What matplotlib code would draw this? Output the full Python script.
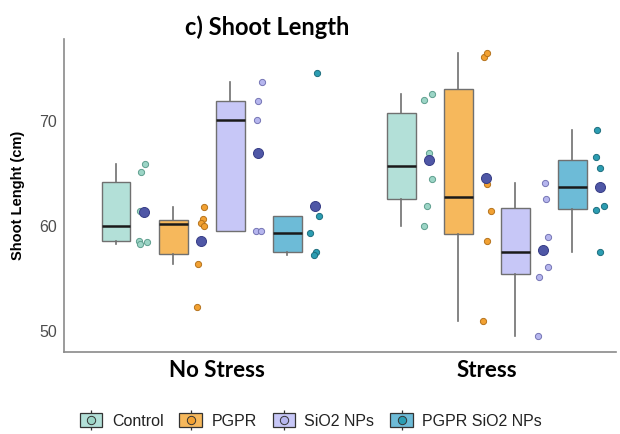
import numpy as np
import matplotlib
matplotlib.use("Agg")
import matplotlib.pyplot as plt
from matplotlib.patches import Rectangle
from matplotlib.lines import Line2D
from matplotlib.legend_handler import HandlerTuple
import matplotlib.transforms as mtransforms

# ---- data -------------------------------------------------------------
conditions = ["No Stress", "Stress"]
treatments = ["Control", "PGPR", "SiO2 NPs", "PGPR SiO2 NPs"]

no_stress_control = [65.9, 65.1, 61.4, 58.6, 58.3, 58.5]
no_stress_pgpr = [61.8, 60.67, 60.3, 60.0, 56.4, 52.3]
no_stress_sio2 = [73.75, 71.87, 70.06, 59.56, 59.5]
no_stress_pgpr_sio2 = [74.54, 60.95, 59.37, 57.52, 57.27]

stress_control = [72.0, 72.54, 67.0, 64.44, 61.93, 60.0]
stress_pgpr = [76.07, 76.45, 64.0, 61.43, 58.54, 50.98]
stress_sio2 = [64.13, 62.6, 58.92, 56.13, 55.17, 49.49]
stress_pgpr_sio2 = [69.17, 66.54, 65.49, 61.56, 61.93, 57.49]

y_ticks = [50, 60, 70]

groups = [
    [no_stress_control, no_stress_pgpr, no_stress_sio2, no_stress_pgpr_sio2],
    [stress_control, stress_pgpr, stress_sio2, stress_pgpr_sio2],
]

# horizontal jitter of the raw points (fixed, in pixels)
jitter_px = [
    [[1, -3, -4, -5, -4, 3], [3, 2, 0, 3, -3, -4.5], [4, 0, -1, -2, 3], [2, 3.5, -5.5, 1, -1]],
    [[-5, 3, 0, 3, -2, -5], [-2, 1, 1, 5, 1, -3], [2, 3, 5, 5, -4, -5], [-3, -4, 0, -4, 4, 0]],
]

# ---- styling ----------------------------------------------------------
box_fill = ["#B3E0D8", "#F6B85C", "#C7C7F7", "#6DBBD7"]
pt_fill = ["#9CD5C6", "#F2A132", "#B6B6EE", "#2C9DB2"]
pt_edge = ["#5E9E8E", "#B5731C", "#7474B4", "#1E6E7E"]
mean_fill = "#4F57A6"
mean_edge = "#373D86"
grey = "#707070"

px_per_unit = 285.0
dodge = 57.0 / px_per_unit
box_w = 28.5 / px_per_unit
pt_shift = 28.0 / px_per_unit

fig = plt.figure(figsize=(6.2, 4.34), dpi=100)
ax = fig.add_axes([64 / 620, (434 - 351.5) / 434, (616 - 64) / 620, (351.5 - 39) / 434])

for gi, grp in enumerate(groups):
    for ti, vals in enumerate(grp):
        pos = gi + (ti - 1.5) * dodge
        ax.boxplot(
            [vals], positions=[pos], widths=box_w, whis=1.5, showfliers=False,
            patch_artist=True, showcaps=False,
            boxprops=dict(facecolor=box_fill[ti], edgecolor=grey, linewidth=1.0),
            whiskerprops=dict(color=grey, linewidth=1.2),
            medianprops=dict(color="#1A1A1A", linewidth=1.8),
            zorder=2,
        )
        xs = pos + pt_shift + np.array(jitter_px[gi][ti]) / px_per_unit
        ax.scatter(xs, vals, s=20, facecolor=pt_fill[ti], edgecolor=pt_edge[ti],
                   linewidth=0.7, zorder=3)
        ax.scatter([pos + pt_shift], [np.mean(vals)], s=52, facecolor=mean_fill,
                   edgecolor=mean_edge, linewidth=0.7, zorder=4)

ax.set_xlim((64 - 201.75) / px_per_unit, (616 - 201.75) / px_per_unit)
ax.set_ylim(60 - (351.5 - 226) / 10.5, 60 + (226 - 39) / 10.5)

ax.set_yticks(y_ticks)
ax.set_yticklabels([str(v) for v in y_ticks], fontsize=11.5, color="#4D4D4D",
                   family="Liberation Sans")
ax.set_xticks([0, 1])
ax.set_xticklabels(conditions, fontsize=16, fontweight="bold", family="Lato")
ax.tick_params(axis="both", length=0)
ax.tick_params(axis="y", pad=5)
ax.tick_params(axis="x", pad=6)
# the left category label sits a little right of its box group
first = ax.get_xticklabels()[0]
first.set_transform(first.get_transform() + mtransforms.ScaledTranslation(15 / 100, 0, fig.dpi_scale_trans))

for side in ["top", "right"]:
    ax.spines[side].set_visible(False)
for side in ["left", "bottom"]:
    ax.spines[side].set_color("#8A8A8A")
    ax.spines[side].set_linewidth(1.2)

ax.set_ylabel("Shoot Lenght (cm)", fontsize=10.5, fontweight="bold",
              family="Liberation Sans", labelpad=10)

fig.text(267 / 620, 1 - 27 / 434, "c) Shoot Length", ha="center", va="center",
         fontsize=17, fontweight="bold", family="Lato")

# legend: box glyph with a whisker and a point inside
handles = []
for ti in range(4):
    vline = Line2D([], [], color="#333333", linewidth=0.9, marker="|", markersize=15,
                   markeredgewidth=0.9, linestyle="none")
    rect = Rectangle((0, 0), 1, 1, facecolor=box_fill[ti], edgecolor="#333333", linewidth=0.9)
    dot = Line2D([], [], marker="o", markersize=6, markerfacecolor=pt_fill[ti],
                 markeredgecolor="#333333", markeredgewidth=0.7, linestyle="none")
    handles.append((vline, rect, dot))

leg = fig.legend(handles, treatments, loc="center", bbox_to_anchor=(311 / 620, 1 - 421 / 434),
                 ncol=4, frameon=False, handler_map={tuple: HandlerTuple(ndivide=1, pad=0)},
                 handlelength=1.4, handleheight=0.9, handletextpad=0.6, columnspacing=1.0,
                 prop=dict(family="Liberation Sans", size=11.5))
for t in leg.get_texts():
    t.set_color("#222222")

fig.savefig("out.png", dpi=100, facecolor="white")
